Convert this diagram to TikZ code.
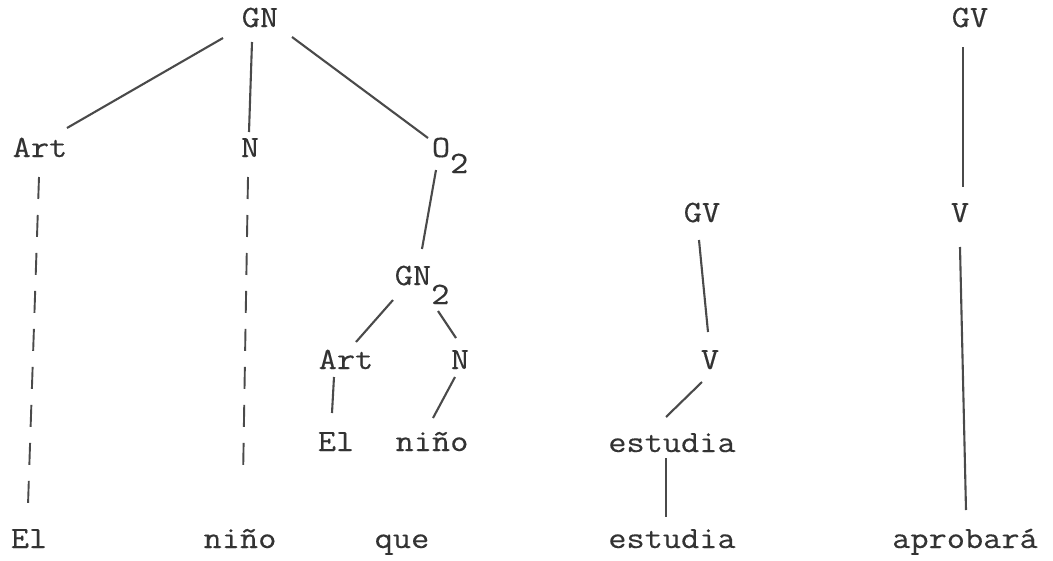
\documentclass[tikz,border=0pt]{standalone}
\usepackage{fontspec}
\setmonofont[FakeStretch=1.14,FakeBold=0.3]{Latin Modern Mono}
\definecolor{txt}{HTML}{333333}
\definecolor{ln}{HTML}{4A4A4A}
\newcommand\mysub[2]{\rlap{\raisebox{-#2}[0pt][0pt]{#1}}}
\tikzset{
  lbl/.style={font=\ttfamily\fontsize{31}{31}\selectfont, text=txt, inner sep=0pt, anchor=base},
  edge/.style={draw=ln, line width=2.1pt},
  dashedge/.style={edge, line width=1.9pt, dash pattern=on 22pt off 16pt},
}
\begin{document}
\begin{tikzpicture}[x=1pt,y=-1pt]
\useasboundingbox (0,0) rectangle (1053,560);
% left tree
\node[lbl] (GN)    at (260,27)  {GN};
\node[lbl] (ArtL)  at (40,157)  {Art};
\node[lbl] (NL)    at (250,157) {N};
\node[lbl] (O2)    at (441,157) {O\mysub{2}{16pt}};
\node[lbl] (GN2)   at (413,285) {GN\mysub{2}{19pt}};
\node[lbl] (Art2)  at (346,369) {Art};
\node[lbl] (N2)    at (460,369) {N};
\node[lbl] (El2)   at (336,451) {El};
\node[lbl] (nino2) at (432,451) {niño};
\node[lbl] (El)    at (29,548)  {El};
\node[lbl] (nino)  at (240,548) {niño};
\node[lbl] (que)   at (402,548) {que};
% middle tree
\node[lbl] (GVm)   at (702,222) {GV};
\node[lbl] (Vm)    at (710,369) {V};
\node[lbl] (est1)  at (672,452) {estudia};
\node[lbl] (est2)  at (672,548) {estudia};
% right tree
\node[lbl] (GVr)   at (970,27)  {GV};
\node[lbl] (Vr)    at (960,222) {V};
\node[lbl] (aprob) at (965,548) {aprobará};

\draw[edge] ([shift={(-37,11)}]GN.base) -- ([shift={(27,-29)}]ArtL.base);
\draw[edge] ([shift={(-8,15)}]GN.base) -- ([shift={(-1,-25)}]NL.base);
\draw[edge] ([shift={(32,10)}]GN.base) -- ([shift={(-13,-19)}]O2.base);
\draw[edge] ([shift={(-5,13)}]O2.base) -- ([shift={(9,-36)}]GN2.base);
\draw[edge] ([shift={(-20,15)}]GN2.base) -- ([shift={(10,-27)}]Art2.base);
\draw[edge] ([shift={(25,26)}]GN2.base) -- ([shift={(-4,-31)}]N2.base);
\draw[edge] ([shift={(-12,8)}]Art2.base) -- ([shift={(-4,-38)}]El2.base);
\draw[edge] ([shift={(-5,8)}]N2.base) -- ([shift={(1,-33)}]nino2.base);
\draw[dashedge] ([shift={(-1,20)}]ArtL.base) -- ([shift={(-1,-43)}]El.base);
\draw[dashedge] ([shift={(-2,20)}]NL.base) -- ([shift={(3,-68)}]nino.base);

\draw[edge] ([shift={(-3,18)}]GVm.base) -- ([shift={(-2,-37)}]Vm.base);
\draw[edge] ([shift={(-8,13)}]Vm.base) -- ([shift={(-6,-35)}]est1.base);
\draw[edge] ([shift={(-6,6)}]est1.base) -- ([shift={(-6,-31)}]est2.base);

\draw[edge] ([shift={(-7,20)}]GVr.base) -- ([shift={(3,-35)}]Vr.base);
\draw[edge] ([shift={(0,25)}]Vr.base) -- ([shift={(1,-38)}]aprob.base);
\end{tikzpicture}
\end{document}
